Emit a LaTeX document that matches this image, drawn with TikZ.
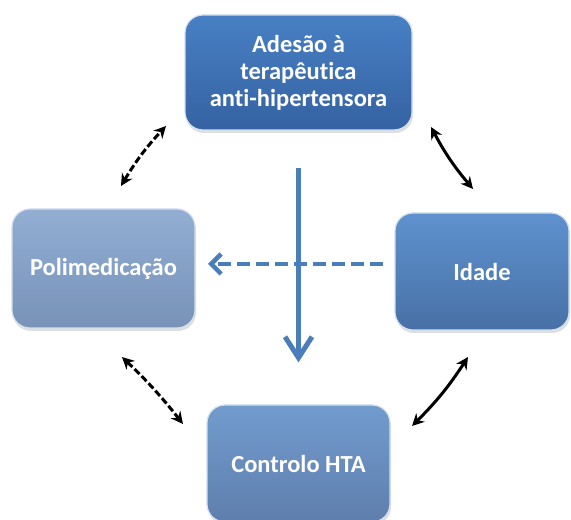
\documentclass[tikz,border=0pt]{standalone}
\usepackage{fontspec}
\setmainfont{Carlito}[Ligatures=NoCommon]
\usetikzlibrary{arrows.meta,shadows}
\definecolor{topA}{HTML}{4780C4}
\definecolor{topB}{HTML}{3562A2}
\definecolor{idA}{HTML}{5E92CE}
\definecolor{idB}{HTML}{4870A6}
\definecolor{poA}{HTML}{92AED3}
\definecolor{poB}{HTML}{7892B8}
\definecolor{coA}{HTML}{729CCE}
\definecolor{coB}{HTML}{5E7EAD}
\definecolor{arrowblue}{HTML}{4A7EBB}
\tikzset{
  box/.style={rounded corners=18pt, draw=white!75!arrowblue, line width=1.2pt,
    text=white, align=center, inner sep=0pt,
    font=\bfseries\fontsize{24.5}{27}\selectfont,
    drop shadow={opacity=0.25, shadow xshift=1pt, shadow yshift=-3pt}},
  bluearrow/.style={arrowblue, line width=5pt, -{Straight Barb[length=21pt,width=27pt,line width=5pt]}},
  bluedash/.style={arrowblue, line width=4.5pt, dash pattern=on 13pt off 6pt,
    -{Straight Barb[length=10pt,width=20pt,line width=4.5pt]}},
  blackdash/.style={black, line width=3pt, dash pattern=on 7pt off 3pt,
    {Stealth[length=12pt,width=12pt]}-{Stealth[length=12pt,width=12pt]}},
  blacksolid/.style={black, line width=3pt,
    {Stealth[length=12pt,width=12pt]}-{Stealth[length=12pt,width=12pt]}}
}
\begin{document}
\begin{tikzpicture}[x=1pt,y=1pt]
\useasboundingbox (0,0) rectangle (571,520);
\fill[white] (0,0) rectangle (571,520);
\node[box, top color=topA, bottom color=topB, minimum width=227pt, minimum height=115pt]
  (adesao) at (298.5,447.5) {Adesão à\\terapêutica\\anti-hipertensora};
\node[box, top color=poA, bottom color=poB, minimum width=183pt, minimum height=119pt]
  (poli) at (103.5,251.5) {Polimedicação};
\node[box, top color=idA, bottom color=idB, minimum width=174pt, minimum height=117pt]
  (idade) at (482,248.5) {Idade};
\node[box, top color=coA, bottom color=coB, minimum width=183pt, minimum height=117pt]
  (controlo) at (298.5,56.5) {Controlo HTA};
% blue arrows
\draw[bluearrow, shorten <=37pt, shorten >=42pt] (adesao.south) -- (controlo.north);
\coordinate (hs) at (383,256);
\coordinate (he) at (208,256);
\draw[bluedash] (hs) -- (he);
% black double arrows
\coordinate (tlA) at (121,334); \coordinate (tlB) at (166,394);
\coordinate (trA) at (431,393); \coordinate (trB) at (473,331);
\coordinate (blA) at (122,163); \coordinate (blB) at (183,96);
\coordinate (brA) at (468,163); \coordinate (brB) at (412,94);
\draw[blackdash] (tlA) to[bend left=6] (tlB);
\draw[blacksolid] (trA) to[bend right=6] (trB);
\draw[blackdash] (blA) to[bend left=4] (blB);
\draw[blacksolid] (brA) to[bend left=6] (brB);
\end{tikzpicture}
\end{document}
